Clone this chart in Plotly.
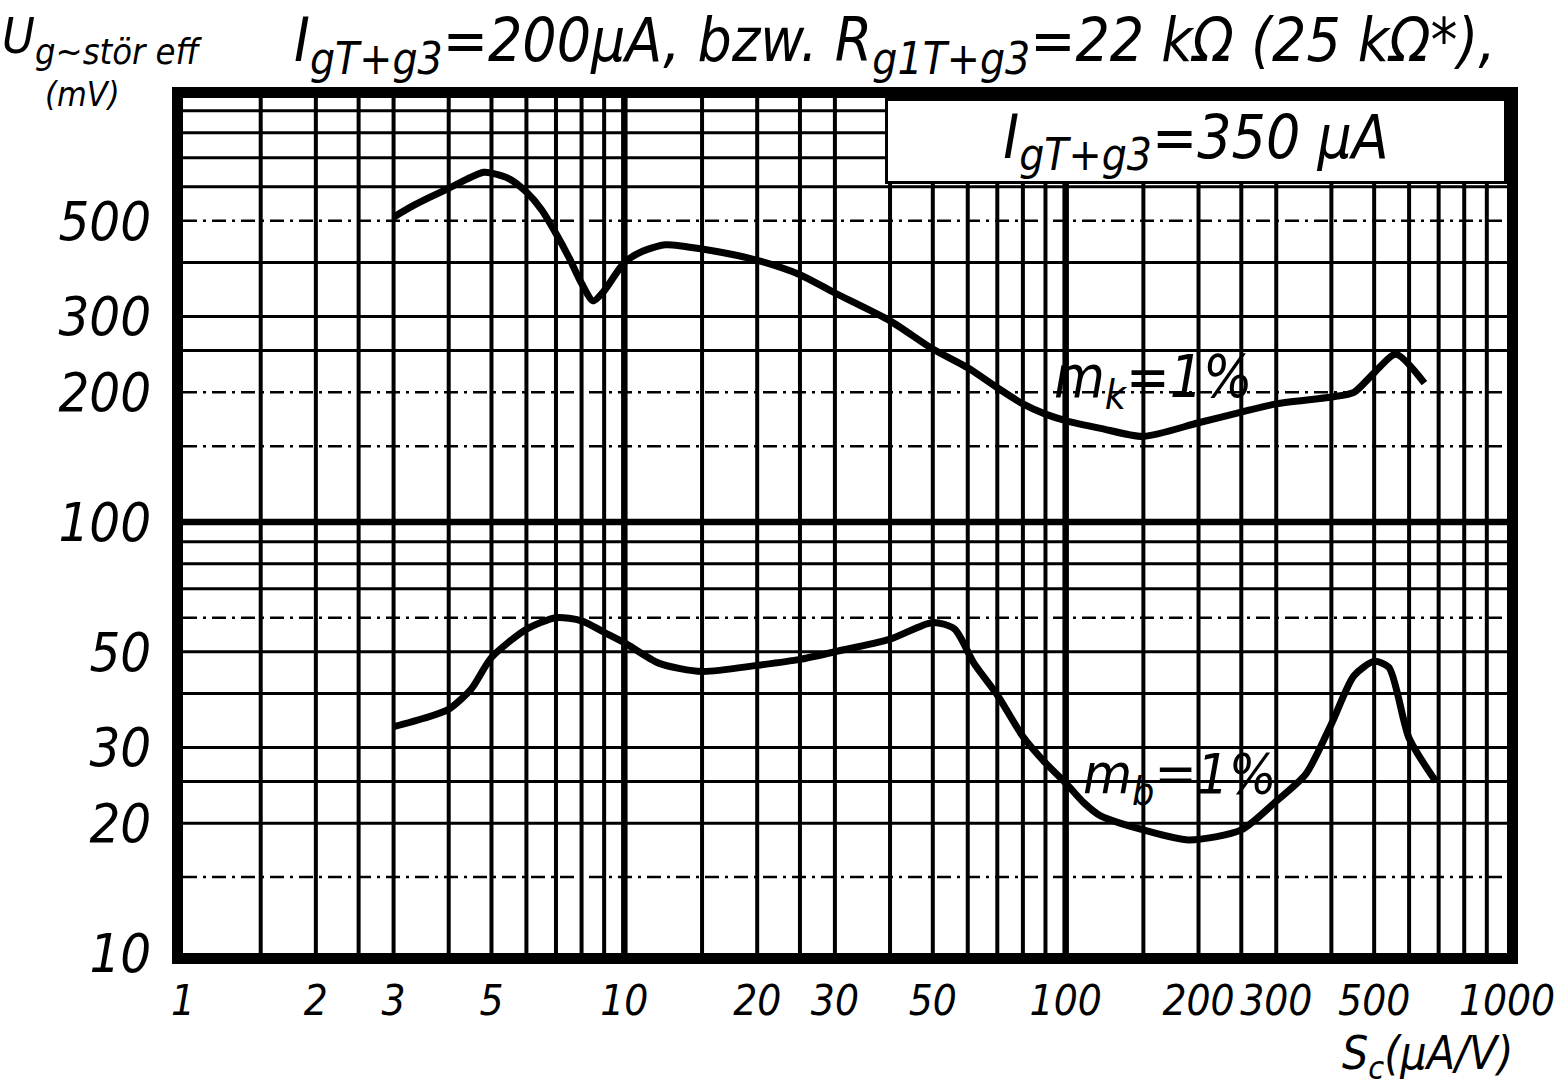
import math
import plotly.graph_objects as go

# ---------------- data ----------------
mk_x = [3, 3.3, 3.6, 4, 4.4, 4.8, 5, 5.5, 6, 6.5, 7, 7.5, 8, 8.5, 9, 10, 11, 12.4, 15, 20, 25, 30, 40, 50, 60, 70, 80, 90, 100, 120, 150, 200, 250, 300, 400, 450, 500, 560, 650]
mk_y = [510, 540, 565, 595, 625, 648, 645, 625, 583, 530, 467, 410, 358, 326, 344, 400, 425, 440, 430, 405, 375, 340, 293, 252, 228, 205, 188, 178, 172, 165, 158, 170, 180, 188, 195, 200, 222, 245, 210]

mb_x = [3, 3.5, 4, 4.5, 5, 6, 7, 8, 9, 10, 12, 15, 20, 25, 30, 40, 50, 56, 62, 70, 80, 90, 100, 110, 120, 150, 190, 250, 300, 350, 400, 450, 500, 540, 600, 690]
mb_y = [33.5, 35, 36.8, 41, 48.5, 56.4, 60, 59, 55.5, 52.5, 47, 45, 46.5, 48, 50, 53.5, 58.5, 56.5, 47, 39.7, 31.8, 27.6, 24.8, 22.3, 20.8, 19.3, 18.3, 19.3, 22.5, 26, 34, 44, 47.5, 46, 31.5, 25]

x_ticks = [1, 2, 3, 5, 10, 20, 30, 50, 100, 200, 300, 500, 1000]
x_ticklabels = ["1", "2", "3", "5", "10", "20", "30", "50", "100", "200", "300", "500", "1000"]
y_ticks = [10, 20, 30, 50, 100, 200, 300, 500]
y_ticklabels = ["10", "20", "30", "50", "100", "200", "300", "500"]

x_grid_minor = [1.5, 2, 2.5, 3, 4, 5, 6, 7, 8, 9, 15, 20, 25, 30, 40, 50, 60, 70, 80, 90,
                150, 200, 250, 300, 400, 500, 600, 700, 800, 900]
x_grid_major = [10, 100]
y_grid_minor = [20, 25, 30, 40, 50, 70, 80, 90, 250, 300, 400, 600, 700, 800, 900]
y_grid_dashdot = [15, 60, 150, 200, 500]
y_grid_major = [100]

# curve label anchor values (data units)
mk_label_pos = (158, 212)
mb_label_pos = (182, 25.6)

SUB = "<sub><span style='font-size:44px'>{}</span></sub>"
title_text = "I" + SUB.format("gT+g3") + "=200μA, bzw. R" + SUB.format("g1T+g3") + "=22 kΩ (25 kΩ*),"
box_text = "I" + SUB.format("gT+g3") + "=350 μA"
label_mk = "m<sub>k</sub>=1%"
label_mb = "m<sub>b</sub>=1%"
y_title = "U<sub><span style='font-size:36px'>g~stör eff</span></sub>"
y_unit = "(mV)"
x_title = "S<sub>c</sub>(μA/V)"

FONT = "Liberation Sans Narrow, DejaVu Sans Condensed, Arial Narrow, sans-serif"

fig = go.Figure()
fig.add_trace(go.Scatter(x=mk_x, y=mk_y, mode="lines",
                         line=dict(color="black", width=7, shape="spline", smoothing=0.7),
                         hoverinfo="skip", showlegend=False))
fig.add_trace(go.Scatter(x=mb_x, y=mb_y, mode="lines",
                         line=dict(color="black", width=7, shape="spline", smoothing=0.7),
                         hoverinfo="skip", showlegend=False))

shapes = []
for v in x_grid_minor:
    shapes.append(dict(type="line", xref="x", yref="paper", x0=v, x1=v, y0=0, y1=1,
                       line=dict(color="black", width=4), layer="below"))
for v in x_grid_major:
    shapes.append(dict(type="line", xref="x", yref="paper", x0=v, x1=v, y0=0, y1=1,
                       line=dict(color="black", width=6.5), layer="below"))
for v in y_grid_minor:
    shapes.append(dict(type="line", xref="paper", yref="y", x0=0, x1=1, y0=v, y1=v,
                       line=dict(color="black", width=3), layer="below"))
for v in y_grid_dashdot:
    shapes.append(dict(type="line", xref="paper", yref="y", x0=0, x1=1, y0=v, y1=v,
                       line=dict(color="black", width=2.5, dash="14px,6px,3px,6px"), layer="below"))
for v in y_grid_major:
    shapes.append(dict(type="line", xref="paper", yref="y", x0=0, x1=1, y0=v, y1=v,
                       line=dict(color="black", width=6.5), layer="below"))

def tf(size):
    return dict(family=FONT, size=size, color="black", style="italic")

annotations = [
    dict(text=title_text, xref="paper", yref="paper", x=0.538, y=1.062, showarrow=False,
         xanchor="center", yanchor="middle", font=tf(60)),
    dict(text=box_text, xref="paper", yref="paper", x=1, y=1, showarrow=False,
         xanchor="right", yanchor="top", width=616, height=80, align="center", valign="middle",
         bgcolor="white", bordercolor="black", borderwidth=3, borderpad=0,
         font=tf(60)),
    dict(text=label_mk, xref="x", yref="y", x=math.log10(mk_label_pos[0]), y=math.log10(mk_label_pos[1]),
         showarrow=False, xanchor="center", yanchor="middle", font=tf(58)),
    dict(text=label_mb, xref="x", yref="y", x=math.log10(mb_label_pos[0]), y=math.log10(mb_label_pos[1]),
         showarrow=False, xanchor="center", yanchor="middle", font=tf(56)),
    dict(text=y_title, xref="paper", yref="paper", x=-0.138, y=1.068, showarrow=False,
         xanchor="left", yanchor="middle", font=tf(50)),
    dict(text=y_unit, xref="paper", yref="paper", x=-0.106, y=1.005, showarrow=False,
         xanchor="left", yanchor="middle", font=tf(34)),
    dict(text=x_title, xref="paper", yref="paper", x=1.006, y=-0.1585, showarrow=False,
         xanchor="right", yanchor="bottom", font=tf(46)),
]

fig.update_layout(
    width=1560, height=1091,
    margin=dict(l=183, r=53, t=98, b=138, pad=0),
    paper_bgcolor="white", plot_bgcolor="white",
    shapes=shapes, annotations=annotations, showlegend=False,
    font=dict(family=FONT, color="black", style="italic"),
)
fig.update_xaxes(type="log", range=[0, 3], tickvals=x_ticks, ticktext=x_ticklabels, tickangle=0,
                 automargin=False,
                 showgrid=False, zeroline=False, showline=True, linecolor="black", linewidth=11,
                 mirror=True, ticks="", tickfont=tf(42), ticklabelstandoff=1)
fig.update_yaxes(type="log", range=[1, 2.984], tickvals=y_ticks, ticktext=y_ticklabels,
                 automargin=False,
                 showgrid=False, zeroline=False, showline=True, linecolor="black", linewidth=11,
                 mirror=True, ticks="", tickfont=tf(54), ticklabelstandoff=10)

fig.write_html("out.html")
